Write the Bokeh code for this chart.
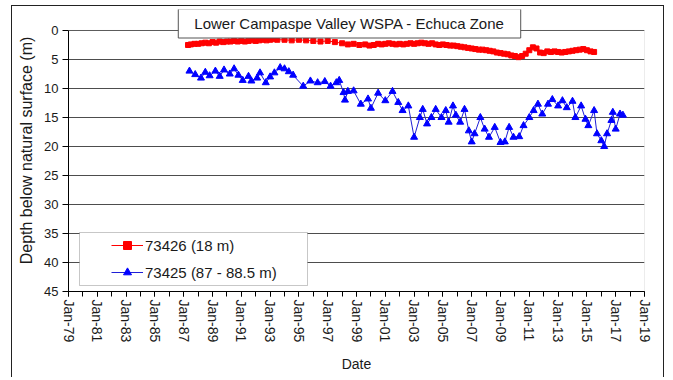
from bokeh.plotting import figure
from bokeh.models import (Range1d, FixedTicker, Legend, LegendItem, Label,
                          BoxAnnotation)
from bokeh.embed import file_html
from bokeh.resources import INLINE

# ---------------- data ----------------
title_text = "Lower Campaspe Valley WSPA - Echuca Zone"
x_label = "Date"
y_label = "Depth below natural surface (m)"

x_min, x_max = 1979, 2019
y_min, y_max = 0, 45
tick_years = [1979, 1981, 1983, 1985, 1987, 1989, 1991, 1993, 1995, 1997, 1999,
              2001, 2003, 2005, 2007, 2009, 2011, 2013, 2015, 2017, 2019]
tick_labels = ["Jan-79", "Jan-81", "Jan-83", "Jan-85", "Jan-87", "Jan-89", "Jan-91",
               "Jan-93", "Jan-95", "Jan-97", "Jan-99", "Jan-01", "Jan-03", "Jan-05",
               "Jan-07", "Jan-09", "Jan-11", "Jan-13", "Jan-15", "Jan-17", "Jan-19"]
minor_years = list(range(1979, 2020))
y_ticks = [0, 5, 10, 15, 20, 25, 30, 35, 40, 45]

red_name = "73426 (18 m)"
red_years = [1987.3, 1987.5, 1987.75, 1988.0, 1988.25, 1988.5, 1988.75, 1989.0, 1989.25,
             1989.5, 1989.75, 1990.0, 1990.25, 1990.5, 1990.75, 1991.0, 1991.25, 1991.5,
             1991.75, 1992.0, 1992.25, 1992.5, 1992.75, 1993.0, 1993.25, 1993.5, 1994.0,
             1994.5, 1995.0, 1995.5, 1996.0, 1996.5, 1997.0, 1997.5, 1998.0, 1998.4,
             1998.8, 1999.2, 1999.6, 1999.9, 2000.2, 2000.5, 2000.75, 2001.0, 2001.25,
             2001.5, 2001.75, 2002.0, 2002.25, 2002.5, 2002.75, 2003.0, 2003.25, 2003.5,
             2003.75, 2004.0, 2004.25, 2004.5, 2004.75, 2005.0, 2005.25, 2005.5, 2005.75,
             2006.0, 2006.25, 2006.5, 2006.75, 2007.0, 2007.25, 2007.5, 2007.75, 2008.0,
             2008.25, 2008.5, 2008.75, 2009.0, 2009.25, 2009.5, 2009.75, 2010.0, 2010.25,
             2010.5, 2010.75, 2011.0, 2011.25, 2011.5, 2011.75, 2012.0, 2012.25, 2012.5,
             2012.75, 2013.0, 2013.25, 2013.5, 2013.75, 2014.0, 2014.25, 2014.5, 2014.75,
             2015.0, 2015.25, 2015.5]
red_depth = [2.5, 2.4, 2.3, 2.3, 2.2, 2.1, 2.2, 2.0, 2.1,
             1.9, 2.0, 1.9, 1.9, 1.8, 1.9, 1.8, 1.9, 1.8,
             1.7, 1.8, 1.7, 1.6, 1.7, 1.6, 1.5, 1.6, 1.6,
             1.7, 1.6, 1.7, 1.8, 1.9, 1.8, 2.0, 2.2, 2.4,
             2.3, 2.5, 2.4, 2.6, 2.5, 2.3, 2.4, 2.3, 2.2,
             2.3, 2.4, 2.3, 2.4, 2.3, 2.2, 2.3, 2.2, 2.1,
             2.2, 2.3, 2.2, 2.4, 2.5, 2.4, 2.5, 2.6, 2.6,
             2.7, 2.8, 2.9, 3.0, 3.1, 3.2, 3.3, 3.3, 3.4,
             3.5, 3.6, 3.8, 3.9, 4.0, 4.1, 4.3, 4.4, 4.6,
             4.4, 4.0, 3.4, 2.9, 3.1, 3.8, 3.9, 3.6, 3.7,
             3.6, 3.7, 3.8, 3.7, 3.6, 3.5, 3.4, 3.3, 3.2,
             3.4, 3.6, 3.7]

blue_name = "73425 (87 - 88.5 m)"
blue_years = [1987.4, 1987.8, 1988.2, 1988.5, 1988.8, 1989.2, 1989.5, 1989.8, 1990.2,
              1990.5, 1990.8, 1991.1, 1991.5, 1991.7, 1992.1, 1992.3, 1992.7, 1993.0,
              1993.3, 1993.7, 1994.0, 1994.3, 1994.6, 1995.3, 1995.8, 1996.3, 1996.8,
              1997.2, 1997.6, 1997.8, 1998.1, 1998.2, 1998.4, 1998.8, 1999.3, 1999.8,
              2000.0, 2000.5, 2001.0, 2001.5, 2001.9, 2002.2, 2002.6, 2003.0, 2003.4,
              2003.6, 2003.9, 2004.2, 2004.5, 2004.9, 2005.2, 2005.4, 2005.7, 2005.9,
              2006.2, 2006.5, 2006.8, 2007.0, 2007.2, 2007.6, 2007.9, 2008.2, 2008.6,
              2009.0, 2009.3, 2009.6, 2009.9, 2010.3, 2010.6, 2011.0, 2011.3, 2011.6,
              2011.9, 2012.3, 2012.6, 2013.0, 2013.3, 2013.6, 2014.0, 2014.2, 2014.6,
              2014.9, 2015.1, 2015.5, 2015.7, 2016.0, 2016.2, 2016.4, 2016.7, 2016.8,
              2017.0, 2017.3, 2017.5]
blue_depth = [7.0, 7.6, 8.2, 7.2, 7.8, 7.0, 7.9, 6.8, 7.5,
              6.6, 7.7, 8.6, 7.9, 8.7, 8.2, 7.3, 9.0, 8.0,
              7.3, 6.4, 6.6, 7.1, 7.7, 9.6, 8.7, 9.0, 8.8,
              9.6, 9.0, 8.6, 10.7, 12.0, 10.5, 10.4, 12.7, 11.8,
              13.4, 10.8, 12.1, 10.5, 12.4, 13.8, 13.0, 18.4, 15.0,
              13.6, 16.1, 15.0, 13.6, 15.0, 13.8, 15.8, 13.0, 14.6,
              15.8, 13.6, 17.3, 19.2, 17.8, 15.0, 17.0, 18.4, 16.7,
              19.3, 19.2, 16.7, 18.4, 18.3, 16.4, 15.0, 13.8, 12.7,
              14.4, 12.7, 11.9, 13.0, 12.1, 13.3, 12.2, 15.0, 13.0,
              15.3, 16.4, 13.8, 17.8, 19.0, 20.0, 17.8, 15.5, 14.1,
              17.0, 14.4, 14.6]

# ---------------- figure ----------------
FONT = "Liberation Sans"
TXT = "#1a1a1a"

# the frame extends a little above depth 0 so the boxed title can overlap it
p = figure(width=653, height=372, output_backend="svg", toolbar_location=None,
           x_range=Range1d(x_min, x_max), y_range=Range1d(y_max, -3.62),
           min_border_left=56, min_border_right=21, min_border_top=3,
           min_border_bottom=87)
p.styles = {"margin-left": "11px", "margin-top": "5px",
            "border-left": "1px solid #222", "border-top": "1px solid #222",
            "border-right": "1px solid #222"}
p.background_fill_color = "white"
p.border_fill_color = "white"
p.outline_line_color = None

# plot-area border from depth 0 to 45
frame_box = BoxAnnotation(left=x_min, right=x_max, top=y_min, bottom=y_max,
                          fill_alpha=0.0, line_color="#808080", line_width=1,
                          level="underlay")
p.add_layout(frame_box)

# axes
p.xaxis.ticker = FixedTicker(ticks=tick_years, minor_ticks=minor_years)
p.xaxis.major_label_overrides = {yr: lb for yr, lb in zip(tick_years, tick_labels)}
p.xaxis.major_label_orientation = "vertical"
p.xaxis.major_label_text_font = FONT
p.xaxis.major_label_text_font_size = "14px"
p.xaxis.major_label_text_color = TXT
p.xaxis.major_label_standoff = 3
p.xaxis.major_tick_out = 5
p.xaxis.major_tick_in = 0
p.xaxis.minor_tick_out = 5
p.xaxis.minor_tick_in = 0
p.xaxis.axis_line_color = "black"
p.xaxis.major_tick_line_color = "black"
p.xaxis.minor_tick_line_color = "black"
p.xaxis.axis_label = x_label
p.xaxis.axis_label_text_font = FONT
p.xaxis.axis_label_text_font_size = "14px"
p.xaxis.axis_label_text_font_style = "normal"
p.xaxis.axis_label_text_color = TXT
p.xaxis.axis_label_standoff = 11

p.yaxis.ticker = FixedTicker(ticks=y_ticks, minor_ticks=[])
p.yaxis.bounds = (y_min, y_max)
p.yaxis.major_label_text_font = FONT
p.yaxis.major_label_text_font_size = "13px"
p.yaxis.major_label_text_color = TXT
p.yaxis.major_label_standoff = 4
p.yaxis.major_tick_out = 6
p.yaxis.major_tick_in = 0
p.yaxis.axis_line_color = "black"
p.yaxis.major_tick_line_color = "black"
p.yaxis.axis_label = y_label
p.yaxis.axis_label_text_font = FONT
p.yaxis.axis_label_text_font_size = "16px"
p.yaxis.axis_label_text_font_style = "normal"
p.yaxis.axis_label_text_color = TXT
p.yaxis.axis_label_standoff = 6

p.xgrid.grid_line_color = None
p.ygrid.ticker = FixedTicker(ticks=y_ticks)
p.ygrid.grid_line_color = "#4d4d4d"
p.ygrid.grid_line_width = 1

# series
r_line = p.line(red_years, red_depth, line_color="#ff0000", line_width=1)
r_mark = p.scatter(red_years, red_depth, marker="square", size=5,
                   fill_color="#ff0000", line_color="#ff0000")
b_line = p.line(blue_years, blue_depth, line_color="#1f1fd6", line_width=1)
b_mark = p.scatter(blue_years, blue_depth, marker="triangle", size=7,
                   fill_color="#0000ff", line_color="#0000ff")

# legend frame (screen units, relative to plot frame bottom-left)
box = BoxAnnotation(left=11, right=239, bottom=6, top=59,
                    left_units="screen", right_units="screen",
                    bottom_units="screen", top_units="screen",
                    fill_color="white", fill_alpha=1.0,
                    line_color="#444444", line_width=1, level="overlay")
p.add_layout(box)

legend = Legend(items=[LegendItem(label=red_name, renderers=[r_line, r_mark]),
                       LegendItem(label=blue_name, renderers=[b_line, b_mark])],
                location=(43, 9), orientation="vertical",
                glyph_width=32, glyph_height=20, label_height=20,
                label_standoff=2, spacing=7, padding=0, margin=0,
                border_line_color=None, background_fill_alpha=0.0,
                label_text_font=FONT, label_text_font_size="15px",
                label_text_color=TXT)
p.add_layout(legend)

# boxed title
title = Label(x=281, y=268, x_units="screen", y_units="screen", text=title_text,
              text_align="center", text_baseline="middle",
              text_font=FONT, text_font_size="15px", text_color=TXT,
              background_fill_color="white", background_fill_alpha=1.0,
              border_line_color="#555555", border_line_width=1,
              padding=dict(left=16, right=16, top=6, bottom=6))
p.add_layout(title)

open("out.html", "w").write(file_html(p, INLINE))
